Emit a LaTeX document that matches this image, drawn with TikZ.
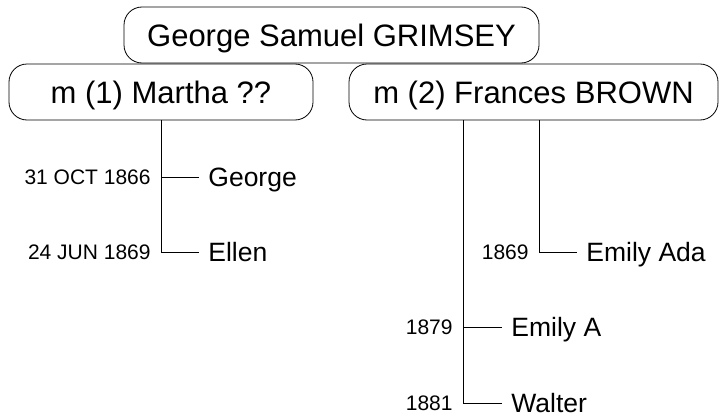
\documentclass[tikz,border=0pt]{standalone}
\usepackage{fontspec}
\setmainfont{Liberation Sans}
\usetikzlibrary{positioning}

\begin{document}
\begin{tikzpicture}[x=1pt,y=-1pt,line width=0.8pt,
  box/.style={draw,rounded corners=18pt,inner sep=0pt,minimum height=56pt,text height=22pt,text depth=0pt,font=\fontsize{31}{31}\selectfont},
  child/.style={anchor=west,inner xsep=9pt,inner ysep=0pt,text height=18.5pt,text depth=0pt,font=\fontsize{26.5}{26.5}\selectfont},
  born/.style={inner xsep=10pt,inner ysep=0pt,text height=15pt,text depth=0pt,font=\fontsize{21}{21}\selectfont}]

            \useasboundingbox (0,0) rectangle (720,415);

            \node[box, minimum width=415pt] (gsg) at (331.5,35) {George Samuel GRIMSEY};
            \node[box, minimum width=304pt] (m1) at (161,92) {m (1) Martha ??};
            \node[box, minimum width=369pt] (m2) at (533.5,92) {m (2) Frances BROWN};

            \node[child] (c1) at (199,177) {George};
            \node[child] (c2) at (199,252) {Ellen};
            \node[child] (c3) at (577,252) {Emily Ada};
            \node[child] (c4) at (502,327) {Emily A};
            \node[child] (c5) at (502,403) {Walter};

            \node[born] (d1) [left=38pt of c1] {31 OCT 1866};
            \node[born] (d2) [left=38pt of c2] {24 JUN 1869};
            \node[born] (d3) [left=38pt of c3] {1869};
            \node[born] (d4) [left=39pt of c4] {1879};
            \node[born] (d5) [left=39pt of c5] {1881};

            \draw (m1.south) |- (c2.west);
            \draw (d1.east) to (c1.west);
            \draw (m2.south -| d3.east) |- (c3.west);
            \draw (m2.south -| d5.east) |- (c5.west);
            \draw (d4.east) to (c4.west);

        \end{tikzpicture}
\end{document}
